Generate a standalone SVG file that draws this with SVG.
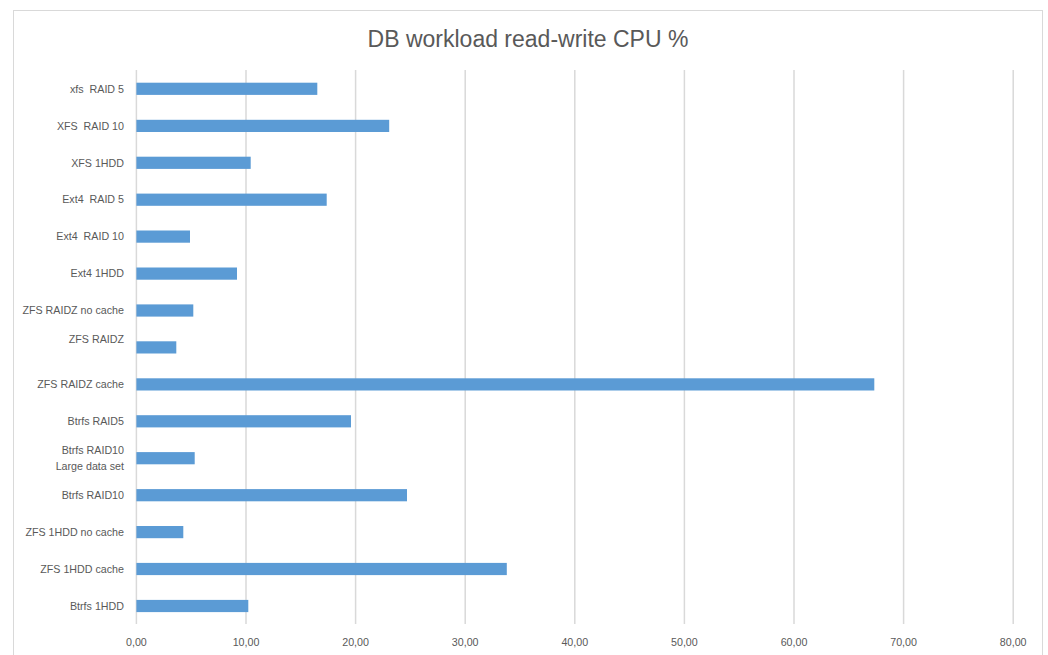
<svg xmlns="http://www.w3.org/2000/svg" width="1048" height="655" viewBox="0 0 1048 655">
<style>
.grid{stroke:#D9D9D9;stroke-width:1.5}
.bar{fill:#5B9BD5}
.cat{font-family:"Liberation Sans",Arial,sans-serif;font-size:10.7px;fill:#595959;text-anchor:end;white-space:pre}
.val{font-family:"Liberation Sans",Arial,sans-serif;font-size:10.7px;fill:#595959;text-anchor:middle}
.title{font-family:"Liberation Sans",Arial,sans-serif;font-size:23px;fill:#595959;text-anchor:middle}
</style>
<rect x="0" y="0" width="1048" height="655" fill="#FFFFFF"/>
<rect x="13.5" y="10.5" width="1029" height="670" fill="#FFFFFF" stroke="#D9D9D9" stroke-width="1"/>
<text class="title" x="528" y="47">DB workload read-write CPU %</text>
<g id="gridlines">
<line class="grid" x1="136.4" y1="70" x2="136.4" y2="624"/>
<line class="grid" x1="246" y1="70" x2="246" y2="624"/>
<line class="grid" x1="355.6" y1="70" x2="355.6" y2="624"/>
<line class="grid" x1="465.2" y1="70" x2="465.2" y2="624"/>
<line class="grid" x1="574.8" y1="70" x2="574.8" y2="624"/>
<line class="grid" x1="684.4" y1="70" x2="684.4" y2="624"/>
<line class="grid" x1="794" y1="70" x2="794" y2="624"/>
<line class="grid" x1="903.6" y1="70" x2="903.6" y2="624"/>
<line class="grid" x1="1013.2" y1="70" x2="1013.2" y2="624"/>
</g>
<g id="bars">
<rect class="bar" x="136.4" y="82.7" width="180.9" height="12.2"/>
<rect class="bar" x="136.4" y="119.8" width="252.8" height="12.2"/>
<rect class="bar" x="136.4" y="156.7" width="114.3" height="12.2"/>
<rect class="bar" x="136.4" y="193.6" width="190.3" height="12.2"/>
<rect class="bar" x="136.4" y="230.5" width="53.6" height="12.2"/>
<rect class="bar" x="136.4" y="267.5" width="100.6" height="12.2"/>
<rect class="bar" x="136.4" y="304.4" width="56.9" height="12.2"/>
<rect class="bar" x="136.4" y="341.3" width="39.9" height="12.2"/>
<rect class="bar" x="136.4" y="378.3" width="737.9" height="12.2"/>
<rect class="bar" x="136.4" y="415.2" width="214.6" height="12.2"/>
<rect class="bar" x="136.4" y="452.1" width="58.3" height="12.2"/>
<rect class="bar" x="136.4" y="489.1" width="270.6" height="12.2"/>
<rect class="bar" x="136.4" y="526" width="46.9" height="12.2"/>
<rect class="bar" x="136.4" y="562.9" width="370.4" height="12.2"/>
<rect class="bar" x="136.4" y="599.9" width="111.9" height="12.2"/>
</g>
<g id="categories" xml:space="preserve">
<text class="cat" x="124" y="92.6">xfs  RAID 5</text>
<text class="cat" x="124" y="129.6">XFS  RAID 10</text>
<text class="cat" x="124" y="166.5">XFS 1HDD</text>
<text class="cat" x="124" y="203.4">Ext4  RAID 5</text>
<text class="cat" x="124" y="240.4">Ext4  RAID 10</text>
<text class="cat" x="124" y="277.3">Ext4 1HDD</text>
<text class="cat" x="124" y="314.2">ZFS RAIDZ no cache</text>
<text class="cat" x="124" y="343.2">ZFS RAIDZ</text>
<text class="cat" x="124" y="388.1">ZFS RAIDZ cache</text>
<text class="cat" x="124" y="425">Btrfs RAID5</text>
<text class="cat" x="124" y="453.9">Btrfs RAID10</text>
<text class="cat" x="124" y="469.9">Large data set</text>
<text class="cat" x="124" y="498.9">Btrfs RAID10</text>
<text class="cat" x="124" y="535.8">ZFS 1HDD no cache</text>
<text class="cat" x="124" y="572.7">ZFS 1HDD cache</text>
<text class="cat" x="124" y="609.7">Btrfs 1HDD</text>
</g>
<g id="axis-values">
<text class="val" x="136.4" y="645.5">0,00</text>
<text class="val" x="246" y="645.5">10,00</text>
<text class="val" x="355.6" y="645.5">20,00</text>
<text class="val" x="465.2" y="645.5">30,00</text>
<text class="val" x="574.8" y="645.5">40,00</text>
<text class="val" x="684.4" y="645.5">50,00</text>
<text class="val" x="794" y="645.5">60,00</text>
<text class="val" x="903.6" y="645.5">70,00</text>
<text class="val" x="1013.2" y="645.5">80,00</text>
</g>
</svg>
